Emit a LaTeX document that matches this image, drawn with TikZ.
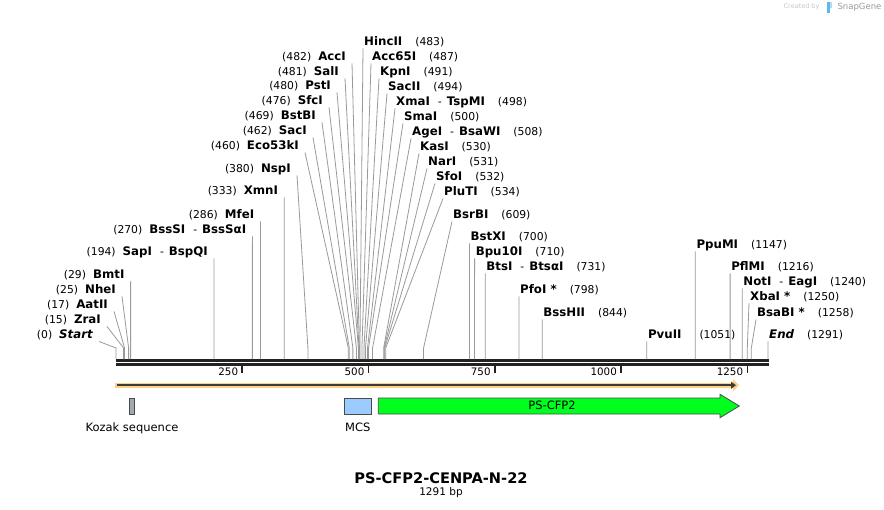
\documentclass[tikz,border=0pt]{standalone}
\usepackage{fontspec}
\setmainfont{DejaVu Sans}
\usetikzlibrary{positioning,arrows.meta}

\definecolor{cutgray}{HTML}{9A9A9A}
\definecolor{bargray}{HTML}{222222}
\definecolor{bandorange}{HTML}{FFD27F}
\definecolor{banddark}{HTML}{3C3C3C}
\definecolor{kozakgray}{HTML}{A4A9B1}
\definecolor{mcsblue}{HTML}{9CCCFF}
\definecolor{cfpgreen}{HTML}{00FF1E}
\definecolor{featedge}{HTML}{4A4A4A}
\definecolor{logoblue}{HTML}{5DB8F0}
\newcommand{\enz}[1]{{\fontsize{11.8}{13}\selectfont\bfseries #1}}

\begin{document}
\begin{tikzpicture}[x=1pt,y=-1pt]
	\tikzstyle{lbl}=[inner sep=0pt, text height=8pt, text depth=2.5pt, font=\fontsize{10.8}{12}\selectfont]
	\tikzstyle{cutline}=[draw=cutgray, line width=0.8pt]
	\tikzstyle{feat}=[draw=featedge, line width=0.8pt, inner sep=0pt]
	\tikzstyle{featlbl}=[inner sep=0pt, text height=8.5pt, text depth=2.5pt, font=\fontsize{11.5}{13}\selectfont]

	\useasboundingbox[fill=white] (0,0) rectangle (884,509);

	% watermark
	\node[anchor=east, text=black!22, font=\fontsize{6.5}{7}\selectfont] (made) at (823,7) {Created by};
	\fill[logoblue] (826.5,2) rectangle (829.5,13);
	\fill[logoblue!50] (829.5,2) rectangle (832,8);
	\node[anchor=west, text=black!40, font=\fontsize{8.5}{9}\selectfont] (snap) at (834,7) {SnapGene};

	% sequence bar and ruler
	\draw[bargray, line width=2.4pt] (115.5,360.5) -- (768.5,360.5);
	\draw[bargray, line width=2.4pt] (115.5,364.5) -- (768.5,364.5);
	\foreach \t in {250,500,750,1000,1250}{
		\pgfmathsetmacro{\px}{116+\t*0.50503}
		\draw[bargray, line width=1.6pt] (\px,365) -- (\px,372.5);
		\node[lbl, anchor=east, font=\fontsize{10.3}{12}\selectfont] (t\t) at (\px-4,373) {\t};
	}

	% sites, labels on the left
	\foreach \nm/\pos/\tx/\ly [count=\i] in {
		{\enz{\itshape Start}}/0/99/335,
		{\enz{ZraI}}/15/107/320,
		{\enz{AatII}}/17/114/305,
		{\enz{NheI}}/25/122/290,
		{\enz{BmtI}}/29/130.6/275,
		{\enz{SapI}\hspace{8pt}-\hspace{5pt}\enz{BspQI}}/194/214/252,
		{\enz{BssSI}\hspace{8pt}-\hspace{5pt}\enz{BssSαI}}/270/252.4/230,
		{\enz{MfeI}}/286/260.4/215,
		{\enz{XmnI}}/333/284.2/191,
		{\enz{NspI}}/380/297/169,
		{\enz{Eco53kI}}/460/305/146,
		{\enz{SacI}}/462/313/131,
		{\enz{BstBI}}/469/322/116,
		{\enz{SfcI}}/476/329/101,
		{\enz{PstI}}/480/337/86,
		{\enz{SalI}}/481/345/72,
		{\enz{AccI}}/482/352/57}{
		\pgfmathsetmacro{\px}{116+\pos*0.50503}
		\node[lbl, anchor=east] (L\i) at (\tx-6,\ly+1) {(\pos)\hspace{7pt}\nm};
		\coordinate (l\i) at (\px,359);
		\draw[cutline] ([xshift=6pt]L\i.south east) -- ([yshift=11pt]l\i) -- (l\i);
	}

	% sites, labels on the right
	\foreach \nm/\pos/\tx/\ly [count=\i] in {
		{\enz{HincII}}/483/363/42,
		{\enz{Acc65I}}/487/371/57,
		{\enz{KpnI}}/491/379/72,
		{\enz{SacII}}/494/387/87,
		{\enz{XmaI}\hspace{8pt}-\hspace{5pt}\enz{TspMI}}/498/395/102,
		{\enz{SmaI}}/500/403/117,
		{\enz{AgeI}\hspace{8pt}-\hspace{5pt}\enz{BsaWI}}/508/411/132,
		{\enz{KasI}}/530/419/147,
		{\enz{NarI}}/531/427/162,
		{\enz{SfoI}}/532/435/177,
		{\enz{PluTI}}/534/443/192,
		{\enz{BsrBI}}/609/452/215,
		{\enz{BstXI}}/700/469.5/237,
		{\enz{Bpu10I}}/710/474.6/252,
		{\enz{BtsI}\hspace{8pt}-\hspace{5pt}\enz{BtsαI}}/731/485.2/267,
		{\enz{PfoI *}}/798/519/290,
		{\enz{BssHII}}/844/542.2/313,
		{\enz{PvuII}\hspace{5pt}}/1051/646.8/335,
		{\enz{PpuMI}}/1147/695.3/245,
		{\enz{PflMI}}/1216/730.1/267,
		{\enz{NotI}\hspace{8pt}-\hspace{5pt}\enz{EagI}}/1240/742.2/282,
		{\enz{XbaI *}}/1250/749/297,
		{\enz{BsaBI *}}/1258/756/313,
		{\enz{\itshape End}}/1291/768/335}{
		\pgfmathsetmacro{\px}{116+\pos*0.50503}
		\node[lbl, anchor=west] (R\i) at (\tx+1,\ly+1) {\nm\hspace{13pt}(\pos)};
		\coordinate (r\i) at (\px,359);
		\draw[cutline] ([xshift=-1pt]R\i.south west) -- ([yshift=11pt]r\i) -- (r\i);
	}

	% direction band
	\draw[bandorange, line width=5pt, -{Triangle[length=6pt,width=12pt]}] (115,385.2) -- (739,385.2);
	\draw[banddark, line width=1.6pt, -{Triangle[length=5pt,width=7pt]}] (116.5,385.2) -- (736,385.2);

	% features
	\node[feat, fill=kozakgray, minimum width=5.4pt, minimum height=16pt] (kozak) at (132,406) {};
	\node[featlbl, below=8pt of kozak] (kozaklbl) {Kozak sequence};
	\node[feat, fill=mcsblue, minimum width=27.5pt, minimum height=16pt] (mcs) at (357.8,406) {};
	\node[featlbl, below=8pt of mcs] (mcslbl) {MCS};
	\draw[feat, fill=cfpgreen] (378.3,398) -- (720,398) -- (720,394.3) -- (739.3,406)
		-- (720,417.7) -- (720,414) -- (378.3,414) -- cycle;
	\node[featlbl] (cfp) at (552,406.2) {PS-CFP2};

	% name and length
	\node[font=\fontsize{14.6}{16}\selectfont\bfseries] (title) at (441,478) {PS-CFP2-CENPA-N-22};
	\node[font=\fontsize{10.5}{12}\selectfont] (len) at (441,493) {1291 bp};
\end{tikzpicture}
\end{document}
